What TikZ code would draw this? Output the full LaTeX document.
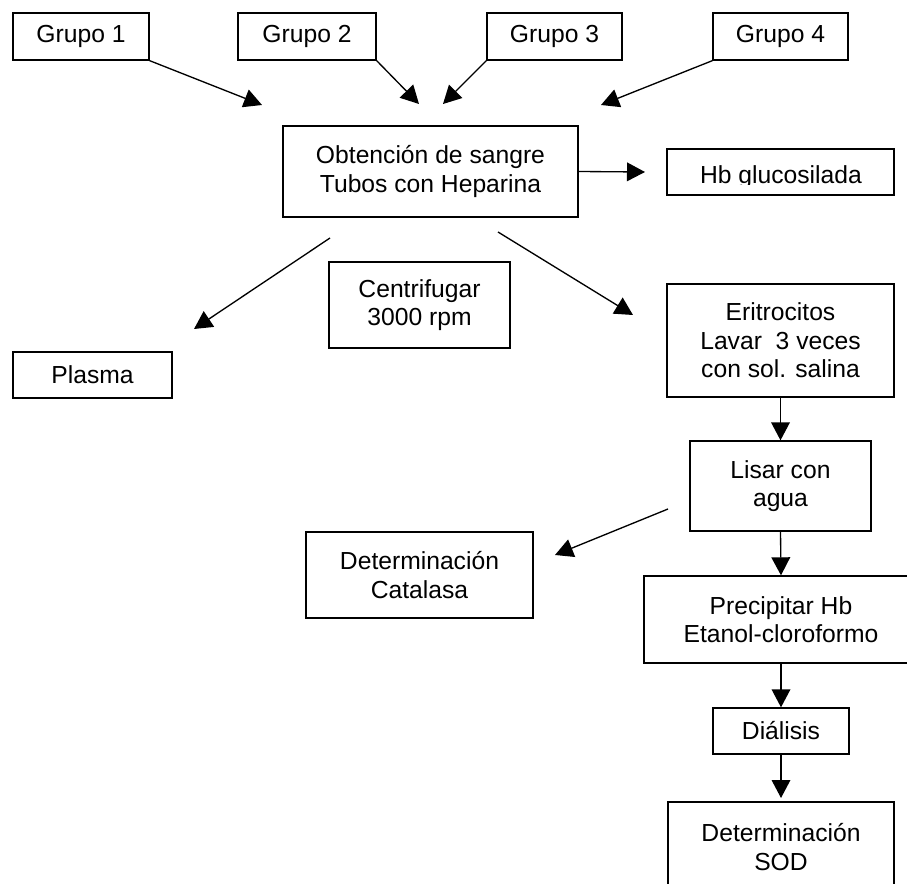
\documentclass[tikz,border=0pt]{standalone}
\usepackage{fontspec}
\setmainfont{Liberation Sans}
\usetikzlibrary{arrows.meta}
\begin{document}
\begin{tikzpicture}[x=0.75pt,y=-0.75pt,
  box/.style={draw=black,line width=1pt,inner sep=0pt,align=center,
    font=\fontsize{18.5}{21.4}\selectfont,text=black},
  arr/.style={draw=black,line width=1pt,-{Triangle[length=13.5pt,width=14pt]}}]
\clip (0,0) rectangle (907,884);
\fill[white] (0,0) rectangle (907,884);
% top groups
\node[box,minimum width=102pt,minimum height=35.25pt] (g1) at (81,36.5) {\raisebox{-2pt}{Grupo 1}};
\node[box,minimum width=103.5pt,minimum height=35.25pt] (g2) at (307,36.5) {\raisebox{-2pt}{Grupo 2}};
\node[box,minimum width=101.25pt,minimum height=35.25pt] (g3) at (554.5,36.5) {\raisebox{-2pt}{Grupo 3}};
\node[box,minimum width=101.25pt,minimum height=35.25pt] (g4) at (780.5,36.5) {\raisebox{-2pt}{Grupo 4}};
\coordinate (t1) at (262,105);
\coordinate (t2) at (419,104);
\coordinate (t3) at (443,104);
\coordinate (t4) at (601,105);
\draw[arr] (g1.south east) -- (t1);
\draw[arr] (g2.south east) -- (t2);
\draw[arr] (g3.south west) -- (t3);
\draw[arr] (g4.south west) -- (t4);
% obtencion
\node[box,minimum width=221.25pt,minimum height=68.25pt] (obt) at (430.5,171.5) {Obtención de sangre\\Tubos con Heparina};
\node[box,minimum width=170.25pt,minimum height=34.5pt] (hb) at (780.5,172) {};
\begin{scope}
\clip (667,149) rectangle (894,185);
\node[box,draw=none] (hbt) at (781,177.5) {Hb glucosilada};
\end{scope}
\coordinate (t5) at (645,172);
\draw[arr] (obt.east) -- (t5);
% centrifugar
\node[box,minimum width=135.75pt,minimum height=64.5pt] (cen) at (419.5,305) {Centrifugar\\3000 rpm};
\node[box,minimum width=119.25pt,minimum height=34.5pt] (pla) at (92.5,375) {Plasma};
\coordinate (s6) at (330,238);
\coordinate (t6) at (194,329);
\draw[arr] (s6) -- (t6);
\coordinate (s7) at (498,232);
\coordinate (t7) at (633,315);
\draw[arr] (s7) -- (t7);
% right column
\node[box,minimum width=170.25pt,minimum height=84.75pt] (eri) at (780.5,340.5) {Eritrocitos\\Lavar\ \ 3 veces\\con sol. salina};
\node[box,minimum width=135.75pt,minimum height=67.5pt] (lis) at (780.5,486) {Lisar con\\agua};
\node[box,minimum width=170.25pt,minimum height=64.5pt] (cat) at (419.5,575) {Determinación\\Catalasa};
\node[box,minimum width=205.5pt,minimum height=65.25pt] (pre) at (781,619.5) {Precipitar Hb\\Etanol-cloroformo};
\node[box,minimum width=102pt,minimum height=34.5pt] (dia) at (781,731) {Diálisis};
\node[box,minimum width=169.5pt,minimum height=67.5pt] (sod) at (781,847) {Determinación\\SOD};
\draw[arr] (eri.south) -- (lis.north);
\coordinate (s9) at (668,509);
\coordinate (t9) at (555,555);
\draw[arr] (s9) -- (t9);
\draw[arr] (lis.south) -- (pre.north);
\draw[arr] (pre.south) -- (dia.north);
\coordinate (t12) at (781,798);
\draw[arr] (dia.south) -- (t12);
\end{tikzpicture}
\end{document}
